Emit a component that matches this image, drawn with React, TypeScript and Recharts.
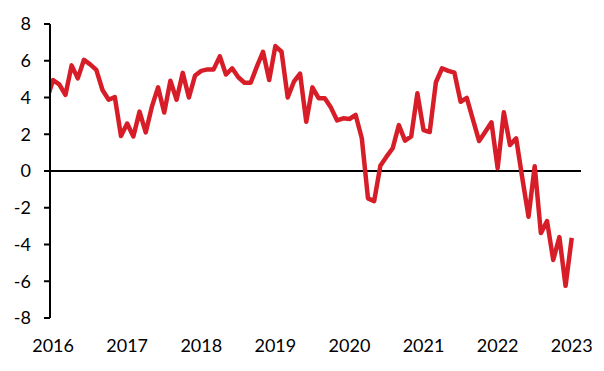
import React from "react";
import { Line, LineChart, ReferenceLine, XAxis, YAxis } from "recharts";

// year labels on the x axis, one every 12 months
const YEARS = ["2016", "2017", "2018", "2019", "2020", "2021", "2022", "2023"];

// monthly values, Dec 2015 .. Jan 2023 (the first one sits just left of the axis)
const FIRST_MONTH_OFFSET = -1;
const VALUES = [
  3.9,
  4.95, 4.72, 4.14, 5.75, 5.04, 6.05, 5.8, 5.5, 4.41, 3.88, 4.02, 1.9,
  2.58, 1.88, 3.23, 2.1, 3.5, 4.55, 3.18, 4.91, 3.88, 5.34, 4.0, 5.2,
  5.45, 5.53, 5.53, 6.24, 5.25, 5.59, 5.1, 4.8, 4.8, 5.68, 6.49, 4.95,
  6.8, 6.49, 4.0, 4.86, 5.3, 2.68, 4.55, 3.96, 3.96, 3.45, 2.75, 2.87,
  2.83, 3.05, 1.78, -1.49, -1.64, 0.28, 0.78, 1.24, 2.5, 1.65, 1.88, 4.23,
  2.23, 2.12, 4.83, 5.59, 5.45, 5.35, 3.77, 3.98, 2.8, 1.63, 2.14, 2.65,
  0.15, 3.2, 1.41, 1.78, -0.4, -2.49, 0.26, -3.38, -2.72, -4.84, -3.6, -6.25,
  -3.64,
];

const Y_TICKS = [-8, -6, -4, -2, 0, 2, 4, 6, 8];

const LINE_COLOR = "#d71e28";
const FONT = "Lato, 'Open Sans', sans-serif";

const rows = VALUES.map((v, k) => ({ t: k + FIRST_MONTH_OFFSET, v }));
const yearTicks = YEARS.map((_, k) => k * 12);

export default function App(): React.JSX.Element {
  return (
    <div style={{ position: "absolute", left: 0, top: 0, background: "#fff" }}>
      <LineChart
        width={604}
        height={371}
        data={rows}
        margin={{ top: 24, right: 23, bottom: 13, left: 0 }}
      >
        <XAxis
          type="number"
          dataKey="t"
          domain={[-0.5, 85.5]}
          allowDataOverflow
          ticks={yearTicks}
          interval={0}
          tickFormatter={(t: number) => YEARS[Math.round(t / 12)] ?? ""}
          axisLine={false}
          tickLine={false}
          tickSize={6}
          tickMargin={15}
          height={40}
          tick={{ fill: "#000", fontSize: 18, fontFamily: FONT }}
        />
        <YAxis
          type="number"
          domain={[-8, 8]}
          ticks={Y_TICKS}
          interval={0}
          width={50}
          axisLine={{ stroke: "#000", strokeWidth: 2 }}
          tickLine={{ stroke: "#000", strokeWidth: 2 }}
          tickSize={6}
          tickMargin={13}
          tick={{ fill: "#000", fontSize: 18, fontFamily: FONT }}
        />
        <ReferenceLine y={0} stroke="#000" strokeWidth={2} />
        <Line
          type="linear"
          dataKey="v"
          stroke={LINE_COLOR}
          strokeWidth={4.5}
          strokeLinejoin="round"
          dot={false}
          activeDot={false}
          isAnimationActive={false}
        />
      </LineChart>
    </div>
  );
}
